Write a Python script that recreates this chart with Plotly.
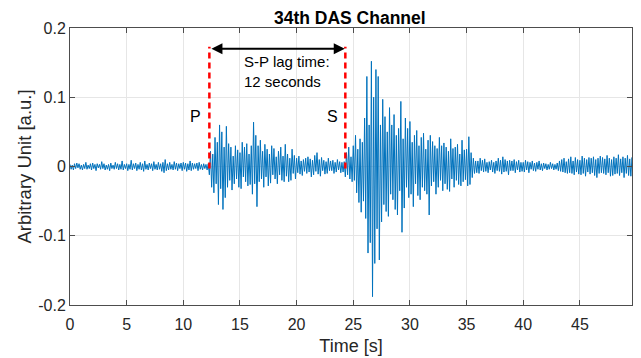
import plotly.graph_objects as go

# Waveform samples every 0.1 s, in thousandths of a.u.
sample_step_s = 0.1
amp_milli = [
    3,-4,2,-5,4,-3,5,-2,4,-4,
    2,-5,3,-3,6,-4,2,-3,4,-5,
    5,-3,3,-6,4,-2,3,-4,7,-3,
    4,-5,2,-4,3,-6,5,-3,2,-4,
    6,-3,4,-5,3,-4,8,-5,3,-3,
    4,-6,3,-4,9,-5,4,-3,5,-6,
    3,-4,6,-5,4,-7,8,-4,3,-5,
    5,-3,4,-6,7,-4,3,-5,6,-4,
    4,-7,6,-9,10,-6,4,-5,6,-4,
    3,-5,7,-4,5,-6,4,-3,5,-6,
    6,-4,5,-7,4,-5,8,-6,5,-4,
    4,-3,5,-6,6,-4,3,-5,4,-3,
    3,-5,4,-12,22,-30,18,-38,42,-25,
    35,-55,60,-32,50,-62,28,-45,58,-30,
    33,-20,28,-34,15,-25,30,-18,24,-30,
    20,-32,35,-15,28,-22,33,-28,18,-26,
    30,-40,64,-25,45,-58,30,-22,38,-18,
    22,-30,32,-15,25,-28,18,-24,30,-12,
    26,-18,14,-25,22,-12,28,-20,15,-22,
    32,-14,18,-22,12,-20,25,-10,16,-18,
    12,-9,15,-11,8,-13,10,-7,12,-10,
    14,-8,11,-15,9,-12,16,-7,20,-11,
    10,-14,13,-6,9,-11,7,-10,12,-6,
    8,-6,9,-10,6,-8,10,-5,7,-9,
    6,-8,7,-15,20,-12,28,-18,14,-22,
    30,-20,45,-38,25,-52,40,-66,35,-50,
    70,-75,130,-125,60,-110,152,-188,100,-140,
    140,-90,130,-135,60,-80,97,-55,72,-65,
    50,-72,85,-40,60,-48,75,-62,45,-70,
    55,-35,94,-95,40,-60,70,-30,55,-45,
    65,-40,35,-58,45,-25,52,-42,30,-48,
    42,-30,48,-35,25,-40,38,-70,45,-28,
    36,-22,30,-40,26,-30,42,-20,30,-35,
    34,-25,28,-33,22,-36,40,-18,26,-30,
    28,-20,32,-26,18,-28,38,-22,24,-19,
    25,-28,43,-26,20,-16,12,-10,8,-9,
    8,-10,12,-6,9,-8,11,-7,6,-9,
    7,-5,9,-8,6,-10,8,-6,12,-7,
    9,-11,14,-8,10,-7,8,-12,9,-6,
    8,-6,10,-9,7,-5,9,-8,6,-7,
    6,-8,9,-5,7,-9,6,-4,8,-6,
    5,-7,6,-4,8,-5,4,-6,5,-3,
    4,-5,3,-4,6,-3,4,-5,3,-4,
    5,-6,8,-7,10,-8,12,-9,7,-10,
    11,-9,14,-10,8,-12,13,-8,10,-11,
    9,-12,15,-10,12,-14,10,-8,13,-11,
    12,-9,14,-13,10,-16,12,-10,15,-9,
    13,-10,11,-12,16,-9,12,-14,10,-13,
    14,-11,12,-10,17,-13,11,-9,14,-16,
    12,-10,16,-13,11,-14,13,-10,15,-12,
]
time_s = [i * sample_step_s for i in range(len(amp_milli))]
amplitude = [v / 1000 for v in amp_milli]

p_arrival = 12.3
s_arrival = 24.3
marker_top = 0.173
x_ticks = [0, 5, 10, 15, 20, 25, 30, 35, 40, 45]
y_ticks = [-0.2, -0.1, 0, 0.1, 0.2]
y_tick_text = ["-0.2", "-0.1", "0", "0.1", "0.2"]

FONT = "Liberation Sans, Arial, sans-serif"

fig = go.Figure()
fig.add_trace(go.Scatter(x=time_s, y=amplitude, mode="lines",
                         line=dict(color="#0072BD", width=1),
                         showlegend=False, hoverinfo="skip"))

for xa in (p_arrival, s_arrival):
    fig.add_shape(type="line", x0=xa, x1=xa, y0=-0.003, y1=marker_top,
                  xref="x", yref="y",
                  line=dict(color="#FF0000", width=2.5, dash="6px,4px"))

fig.add_annotation(x=s_arrival - 0.05, y=0.17, ax=p_arrival + 0.05, ay=0.17,
                   xref="x", yref="y", axref="x", ayref="y",
                   showarrow=True, arrowhead=2, arrowside="end+start",
                   arrowsize=1.1, arrowwidth=2, arrowcolor="black", text="")
fig.add_annotation(x=15.2, y=0.1365, xref="x", yref="y", xanchor="left", yanchor="middle",
                   text="S-P lag time:<br>12 seconds", showarrow=False, align="left",
                   font=dict(family=FONT, size=15, color="black"))
fig.add_annotation(x=11.05, y=0.0725, xref="x", yref="y", text="P", showarrow=False,
                   font=dict(family=FONT, size=16, color="black"))
fig.add_annotation(x=23.2, y=0.0725, xref="x", yref="y", text="S", showarrow=False,
                   font=dict(family=FONT, size=16, color="black"))

axis_common = dict(showline=True, linecolor="#4D4D4D", linewidth=1, mirror="ticks",
                   ticks="inside", ticklen=5, tickcolor="#4D4D4D",
                   showgrid=True, gridcolor="#E6E6E6", gridwidth=1, zeroline=False,
                   automargin=False,
                   tickfont=dict(family=FONT, size=16, color="#262626"))

fig.update_xaxes(range=[0, 49.6], tickvals=x_ticks, ticklabelstandoff=5,
                 title=dict(text="Time [s]", font=dict(family=FONT, size=18, color="#262626"), standoff=7),
                 **axis_common)
fig.update_yaxes(range=[-0.2, 0.2], tickvals=y_ticks, ticktext=y_tick_text,
                 title=dict(text="Arbitrary Unit [a.u.]", font=dict(family=FONT, size=18.5, color="#262626"), standoff=1),
                 **axis_common)

# The page body adds an 8 px offset, so the figure is sized to fit the window.
fig.update_layout(width=633, height=350,
                  margin=dict(l=62, r=9, t=20, b=53, autoexpand=False),
                  paper_bgcolor="white", plot_bgcolor="white",
                  title=dict(text="<b>34th DAS Channel</b>", x=0.540, xanchor="center",
                             xref="container", yref="container",
                             y=0.9714, yanchor="middle",
                             font=dict(family=FONT, size=17.5, color="black")))

fig.write_html("out.html")
